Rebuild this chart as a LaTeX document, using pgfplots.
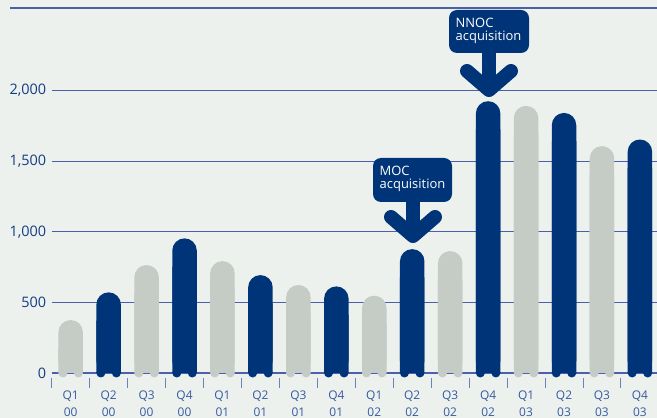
\documentclass[border=0pt]{standalone}
\usepackage{pgfplots}
\pgfplotsset{compat=1.18}
\usepackage{pgfplotstable}
\usepackage{fontspec}
\setmainfont{Open Sans}
\definecolor{bgc}{RGB}{237,241,238}
\definecolor{grayb}{RGB}{196,204,197}
\definecolor{navy}{RGB}{0,52,120}
\definecolor{gridc}{RGB}{75,95,170}
\definecolor{tickc}{RGB}{110,130,185}
\definecolor{ytext}{RGB}{20,60,130}
\definecolor{xtext}{RGB}{55,90,160}
\pgfplotstableread{
x v
0 375
2 764
4 792
6 623
8 547
10 863
12 1891
14 1606
}\graydata
\pgfplotstableread{
x v
1 571
3 953
5 693
7 613
9 877
11 1924
13 1841
15 1653
}\navydata
\pgfdeclareplotmark{feet}{%
  \pgfpathcircle{\pgfpoint{-7.75bp}{0pt}}{4.5bp}%
  \pgfpathcircle{\pgfpoint{7.75bp}{0pt}}{4.5bp}%
  \pgfusepathqfill}
\begin{document}
\begin{tikzpicture}
\useasboundingbox (0,0) rectangle (657bp,418bp);
\fill[bgc] (0,0) rectangle (657bp,418bp);
\begin{axis}[
  at={(51.7bp,40bp)}, anchor=south west,
  scale only axis, width=605.3bp, height=370bp,
  xmin=-0.5, xmax=15.45, ymin=-35.4, ymax=2584,
  axis line style={draw=none},
  ymajorgrids=true,
  major grid style={draw=gridc, line width=1.1bp},
  ytick={0,500,1000,1500,2000},
  xtick={0,...,15},
  xticklabels={{Q1\\00},{Q2\\00},{Q3\\00},{Q4\\00},{Q1\\01},{Q2\\01},{Q3\\01},{Q4\\01},{Q1\\02},{Q2\\02},{Q3\\02},{Q4\\02},{Q1\\03},{Q2\\03},{Q3\\03},{Q4\\03}},
  minor xtick={-0.5,0.5,...,14.5},
  xtick pos=left, ytick pos=left,
  major tick length=0pt,
  minor tick length=10bp,
  tick align=outside,
  major tick style={draw=none},
  minor tick style={draw=tickc, line width=1bp},
  /pgf/number format/.cd, 1000 sep={,}, assume math mode=true,
  /pgfplots/.cd,
  yticklabel style={font=\fontsize{14.5}{17}\selectfont, text=ytext, xshift=-2bp},
  xticklabel style={font=\fontsize{12}{17}\selectfont, text=xtext, align=center, yshift=-9bp},
]
\addplot[ybar, bar width=24.5bp, bar shift=0pt, fill=grayb, draw=none, rounded corners=12.2bp] table[x=x,y=v] {\graydata};
\addplot[ybar, bar width=24.5bp, bar shift=0pt, fill=grayb, draw=none] table[x=x,y expr=\thisrow{v}-200] {\graydata};
\addplot[only marks, mark=feet, color=grayb] table[x=x,y expr=0] {\graydata};
\addplot[ybar, bar width=24.5bp, bar shift=0pt, fill=navy, draw=none, rounded corners=12.2bp] table[x=x,y=v] {\navydata};
\addplot[ybar, bar width=24.5bp, bar shift=0pt, fill=navy, draw=none] table[x=x,y expr=\thisrow{v}-200] {\navydata};
\addplot[only marks, mark=feet, color=navy] table[x=x,y expr=0] {\navydata};
\end{axis}
\draw[gridc, line width=1.1bp] (10bp,410bp) -- (657bp,410bp);
% MOC annotation
\fill[navy, rounded corners=8bp] (373bp,216bp) rectangle (452bp,260bp);
\draw[navy, line width=14bp] (413bp,217bp) -- (413bp,186bp);
\draw[navy, line width=14bp, line cap=round, line join=round] (391bp,201bp) -- (413bp,182bp) -- (435bp,201bp);
\node[anchor=north west, inner sep=0pt, align=left, text=white, font=\fontsize{13}{13}\selectfont] at (379.5bp,252bp) {MOC\\acquisition};
% NNOC annotation
\fill[navy, rounded corners=8bp] (449bp,365bp) rectangle (529bp,408bp);
\draw[navy, line width=14bp] (489bp,366bp) -- (489bp,332bp);
\draw[navy, line width=14bp, line cap=round, line join=round] (467bp,347bp) -- (489bp,328bp) -- (511bp,347bp);
\node[anchor=north west, inner sep=0pt, align=left, text=white, font=\fontsize{13}{13}\selectfont] at (455.5bp,400bp) {NNOC\\acquisition};
\end{tikzpicture}
\end{document}
